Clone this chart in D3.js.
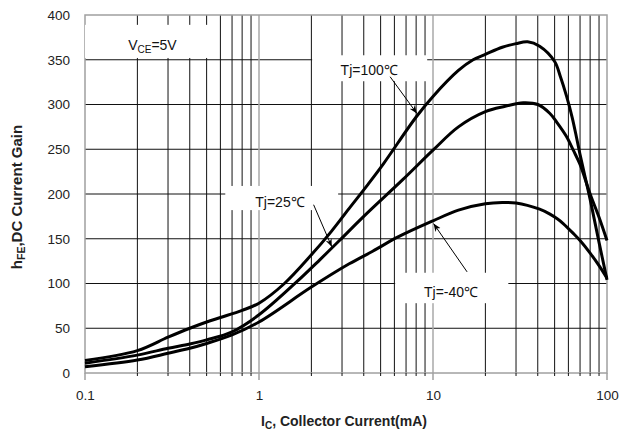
<!DOCTYPE html>
<html>
<head>
<meta charset="utf-8">
<script src="https://cdn.jsdelivr.net/npm/d3@7"></script>
<style>
body { margin: 0; background: #fff; }
text { font-family: "Liberation Sans", Arial, sans-serif; }
</style>
</head>
<body>
<svg></svg>
<script>
const [WIDTH, HEIGHT] = [620, 432]
const margin = { left: 85, right: 13, top: 15, bottom: 59 }

// axis values
const xDomain = [0.1, 100]
const xTickValues = [0.1, 1, 10, 100]
const xTickLabels = ["0.1", "1", "10", "100"]
const yTicks = [0, 50, 100, 150, 200, 250, 300, 350, 400]

// Tj = 100C
const ic100 = [0.1, 0.2, 0.3, 0.4, 0.5, 0.6, 0.8, 1, 1.4, 2, 2.6, 3.3, 4.2, 5.2, 8, 10, 14, 17, 20, 25, 30, 35, 41, 50, 54, 58.6, 63, 67, 70, 80, 90, 100]
const hfe100 = [14, 25, 40, 50, 57, 62, 70, 78, 100, 132, 158, 184, 210, 234, 286, 309, 338, 350, 356, 364, 368, 370, 365, 348, 331, 309, 286, 262, 244, 194, 146, 104]

// Tj = 25C
const ic25 = [0.1, 0.2, 0.3, 0.4, 0.5, 0.7, 1, 1.65, 2.25, 2.9, 4, 6.7, 10, 14, 20, 26, 33, 40, 47, 52, 58.6, 64, 70, 80, 90, 100]
const hfe25 = [11, 20, 27.6, 32.4, 37, 46, 65, 102, 127, 148, 175, 216, 249, 275, 292, 298, 302, 300, 290, 279, 264, 249, 233, 200, 174, 148]

// Tj = -40C
const icM40 = [0.1, 0.2, 0.3, 0.4, 0.5, 0.7, 1, 2, 3.3, 4.5, 6.3, 10, 14, 20, 25, 30, 41, 47, 52, 56, 64, 70, 80, 90, 100]
const hfeM40 = [7, 14.5, 22, 27.6, 33, 42.5, 57, 96, 122, 136, 152, 170, 182, 189, 190.5, 190, 183, 177.5, 172, 167, 156, 148, 134, 120, 106]

// labels: text position, white box [x0, x1, y0, y1], arrow [from, to] in data units
const labels = [
    { text: "V", sub: "CE", rest: "=5V", x: 0.177, y: 361, anchor: "start", box: [0.1, 0.56, 352, 389], arrow: null },
    { text: "Tj=100℃", x: 4.3, y: 333, anchor: "middle", box: [2.02, 9.26, 326, 355], arrow: [[5.67, 331], [8.08, 290]] },
    { text: "Tj=25℃", x: 1.32, y: 185.5, anchor: "middle", box: [0.64, 2.85, 182, 209], arrow: [[2.06, 188], [2.62, 141]] },
    { text: "Tj=-40℃", x: 12.7, y: 85, anchor: "middle", box: [6.06, 27.1, 78, 112], arrow: [[15.7, 113], [10.07, 167]] }
]

const svg = d3.select("svg")
    .attr("width", WIDTH)
    .attr("height", HEIGHT)

const x = d3.scaleLog().domain(xDomain).range([margin.left, WIDTH - margin.right])
const y = d3.scaleLinear().domain([0, 400]).range([HEIGHT - margin.bottom, margin.top])

const isMajor = v => Math.abs(Math.log10(v) - Math.round(Math.log10(v))) < 1e-6
const gridTicks = x.ticks()

// horizontal grid
svg.append("g")
    .selectAll("line")
    .data(yTicks.filter(v => v > 0 && v < 400))
    .join("line")
    .attr("x1", x(0.1)).attr("x2", x(100))
    .attr("y1", d => y(d)).attr("y2", d => y(d))
    .attr("stroke", "#111").attr("stroke-width", 1)

// vertical grid
svg.append("g")
    .selectAll("line")
    .data(gridTicks.filter(v => v > 0.1 && v < 100))
    .join("line")
    .attr("x1", d => x(d)).attr("x2", d => x(d))
    .attr("y1", y(0)).attr("y2", y(400))
    .attr("stroke", d => isMajor(d) ? "#a8a8a8" : "#111")
    .attr("stroke-width", d => isMajor(d) ? 1.5 : 1)

// frame
svg.append("rect")
    .attr("x", x(0.1)).attr("y", y(400))
    .attr("width", x(100) - x(0.1)).attr("height", y(0) - y(400))
    .attr("fill", "none").attr("stroke", "#a0a0a0").attr("stroke-width", 1.5)

// ticks under x axis
svg.append("g")
    .selectAll("line")
    .data(gridTicks)
    .join("line")
    .attr("x1", d => x(d)).attr("x2", d => x(d))
    .attr("y1", y(0)).attr("y2", d => y(0) + (isMajor(d) ? 7 : 3))
    .attr("stroke", d => isMajor(d) ? "#a0a0a0" : "#111")
    .attr("stroke-width", d => isMajor(d) ? 1.5 : 1)

// white boxes behind the labels
svg.append("g")
    .selectAll("rect")
    .data(labels)
    .join("rect")
    .attr("x", d => x(d.box[0])).attr("width", d => x(d.box[1]) - x(d.box[0]))
    .attr("y", d => y(d.box[3])).attr("height", d => y(d.box[2]) - y(d.box[3]))
    .attr("fill", "#fff")

// curves
const line = d3.line()
    .x(d => x(d[0]))
    .y(d => y(d[1]))
    .curve(d3.curveCatmullRom.alpha(0.5))

const series = [
    [ic100, hfe100],
    [ic25, hfe25],
    [icM40, hfeM40]
]

svg.append("g")
    .selectAll("path")
    .data(series.map(([xs, ys]) => xs.map((v, i) => [v, ys[i]])))
    .join("path")
    .attr("d", line)
    .attr("fill", "none")
    .attr("stroke", "#000")
    .attr("stroke-width", 3)
    .attr("stroke-linejoin", "round")

// arrows
svg.append("defs").append("marker")
    .attr("id", "head")
    .attr("viewBox", "0 0 10 10")
    .attr("refX", 10).attr("refY", 5)
    .attr("markerWidth", 8).attr("markerHeight", 8)
    .attr("markerUnits", "userSpaceOnUse")
    .attr("orient", "auto")
    .append("path")
    .attr("d", "M0,1 L10,5 L0,9 L3,5 z")
    .attr("fill", "#000")

svg.append("g")
    .selectAll("line")
    .data(labels.filter(d => d.arrow))
    .join("line")
    .attr("x1", d => x(d.arrow[0][0])).attr("y1", d => y(d.arrow[0][1]))
    .attr("x2", d => x(d.arrow[1][0])).attr("y2", d => y(d.arrow[1][1]))
    .attr("stroke", "#000").attr("stroke-width", 1)
    .attr("marker-end", "url(#head)")

// label texts
const lt = svg.append("g")
    .selectAll("text")
    .data(labels)
    .join("text")
    .attr("x", d => x(d.x)).attr("y", d => y(d.y))
    .attr("text-anchor", d => d.anchor)
    .attr("font-size", 14)
    .attr("fill", "#111")

lt.each(function (d) {
    const t = d3.select(this)
    t.append("tspan").text(d.text)
    if (d.sub) {
        t.append("tspan").text(d.sub).attr("font-size", 10).attr("dy", 3)
        t.append("tspan").text(d.rest).attr("dy", -3)
    }
})

// y tick labels
const yAxis = svg.append("g")
    .attr("transform", `translate(${x(0.1)},0)`)
    .call(d3.axisLeft(y).tickValues(yTicks).tickSize(0).tickPadding(15))
yAxis.select(".domain").remove()
yAxis.selectAll("text")
    .attr("font-size", 13.5)
    .attr("font-family", "Liberation Sans, Arial, sans-serif")
    .attr("fill", "#222")

// x tick labels
const xAxis = svg.append("g")
    .attr("transform", `translate(0,${y(0)})`)
    .call(d3.axisBottom(x).tickValues(xTickValues).tickSize(0).tickPadding(17)
        .tickFormat((d, i) => xTickLabels[i]))
xAxis.select(".domain").remove()
xAxis.selectAll("text")
    .attr("font-size", 13.5)
    .attr("font-family", "Liberation Sans, Arial, sans-serif")
    .attr("fill", "#222")

// axis titles
const xt = svg.append("text")
    .attr("x", 344).attr("y", 426)
    .attr("text-anchor", "middle")
    .attr("font-size", 14).attr("font-weight", "bold").attr("fill", "#222")
xt.append("tspan").text("I")
xt.append("tspan").text("C").attr("font-size", 10).attr("dy", 3)
xt.append("tspan").text(", Collector Current(mA)").attr("dy", -3)

const yt = svg.append("text")
    .attr("transform", "translate(22,197) rotate(-90)")
    .attr("text-anchor", "middle")
    .attr("font-size", 15).attr("font-weight", "bold").attr("fill", "#222")
yt.append("tspan").text("h")
yt.append("tspan").text("FE").attr("font-size", 10.5).attr("dy", 3)
yt.append("tspan").text(",DC Current Gain").attr("dy", -3)
</script>
</body>
</html>
